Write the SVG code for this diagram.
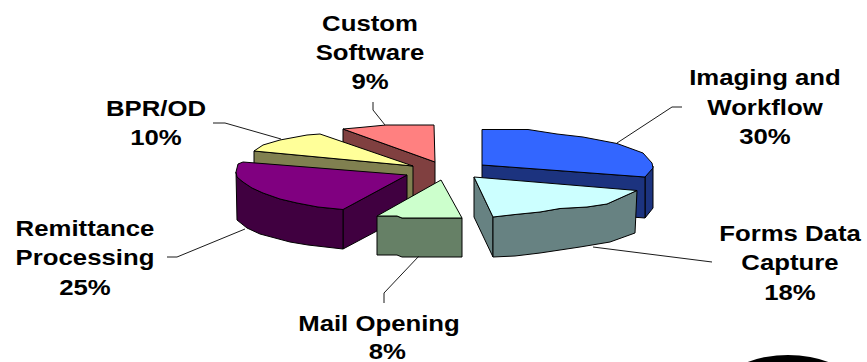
<svg xmlns="http://www.w3.org/2000/svg" width="867" height="362" viewBox="0 0 867 362">
  <style>
    .edge { stroke: #000; stroke-width: 1; stroke-linejoin: round; }
    .lead { fill: none; stroke: #1a1a1a; stroke-width: 1; }
    .lbl { font-family: "Liberation Sans", Arial, sans-serif; font-weight: bold; font-size: 23px; fill: #000; text-anchor: middle; }
  </style>
  <rect width="867" height="362" fill="#fff"/>

  <!-- Custom Software slice (back) -->
  <g id="custom-software">
    <path class="edge" fill="#804040" d="M343,129 L435,162 L435,207 L343,174 Z"/>
    <path class="edge" fill="#FF8080" d="M343,129 L360,127.5 L386,125 L434,125 L435,162 Z"/>
  </g>

  <!-- Imaging and Workflow slice -->
  <g id="imaging-workflow">
    <path class="edge" fill="#1C337F" d="M645,177 L653,166 L653,208 L645,218 Z"/>
    <path class="edge" fill="#1C337F" d="M482,165 L645,177 L645,218 L482,206 Z"/>
    <path class="edge" fill="#3366FF" d="M482,165 L482,129.5 L528,129.5 L557,134 L583,137 L617,143.5 L643,153 L652,163 L653,168 L645,177 Z"/>
  </g>

  <!-- BPR/OD slice -->
  <g id="bpr-od">
    <path class="edge" fill="#808050" d="M254,151 L413,166 L413,206 L254,191 Z"/>
    <path class="edge" fill="#FFFF99" d="M413,166 L254,151 L263,145 L280,140 L307,135 L320,134 Z"/>
  </g>

  <!-- Remittance Processing slice -->
  <g id="remittance">
    <path class="edge" fill="#400040" d="M343,209.5 L407,175 L407,215 L343,249 Z"/>
    <path class="edge" fill="#400040" d="M236,172 L237,177 L243,182 L252,188 L263,193 L280,199 L297,203 L318,207 L343,209.5 L343,249 L308,245 L290,242 L275,238 L260,234 L247,228 L237,220 Z"/>
    <path class="edge" fill="#800080" d="M407,175 L243,162 L238,164 L236,172 L237,177 L243,182 L252,188 L263,193 L280,199 L297,203 L318,207 L343,209.5 Z"/>
  </g>

  <!-- Forms Data Capture slice -->
  <g id="forms-data">
    <path class="edge" fill="#678282" d="M474,177 L493,217 L493,257 L474,217 Z"/>
    <path class="edge" fill="#678282" d="M493,217 L515,214.5 L540,212 L560,208.5 L587,207 L607,204 L637,190.5 L635,233 L610,242 L580,247 L560,250 L540,253 L515,256 L493,257 Z"/>
    <path class="edge" fill="#CCFFFF" d="M474,177 L637,190.5 L607,204 L587,207 L560,208.5 L540,212 L515,214.5 L493,217 Z"/>
  </g>

  <!-- Mail Opening slice -->
  <g id="mail-opening">
    <path class="edge" fill="#668066" d="M377,216 L397,216 L402,218 L462,218 L462,257 L402,257 L397,255 L377,255 Z"/>
    <path class="edge" fill="#CCFFCC" d="M441,180 L462,218 L402,218 L397,216 L377,216 Z"/>
  </g>

  <!-- leader lines from labels to slices -->
  <g id="connectors">
    <polyline class="lead" points="373,102 373,110 385,125"/>
    <polyline class="lead" points="682,107 672,107 617,143"/>
    <polyline class="lead" points="712,262 593,247"/>
    <polyline class="lead" points="384,303 384,293 419,256"/>
    <polyline class="lead" points="167,257 177,257 245,229"/>
    <polyline class="lead" points="213,123 225,123 281,139"/>
  </g>

  <!-- labels -->
  <g id="label-custom">
    <text class="lbl" transform="translate(370,0) scale(1.12,1)"><tspan x="0" y="31.5">Custom</tspan><tspan x="0" y="60">Software</tspan><tspan x="0" y="89">9%</tspan></text>
  </g>
  <g id="label-imaging">
    <text class="lbl" transform="translate(765,0) scale(1.12,1)"><tspan x="0" y="85">Imaging and</tspan><tspan x="0" y="115">Workflow</tspan><tspan x="0" y="144">30%</tspan></text>
  </g>
  <g id="label-forms">
    <text class="lbl" transform="translate(790,0) scale(1.12,1)"><tspan x="0" y="241.5">Forms Data</tspan><tspan x="0" y="270">Capture</tspan><tspan x="0" y="300">18%</tspan></text>
  </g>
  <g id="label-remittance">
    <text class="lbl" transform="translate(85,0) scale(1.12,1)"><tspan x="0" y="236.5">Remittance</tspan><tspan x="0" y="265">Processing</tspan><tspan x="0" y="295">25%</tspan></text>
  </g>
  <g id="label-bpr">
    <text class="lbl" transform="translate(156,0) scale(1.12,1)"><tspan x="0" y="116.5">BPR/OD</tspan><tspan x="0" y="145">10%</tspan></text>
  </g>
  <g id="label-mail">
    <text class="lbl" transform="translate(379,0) scale(1.12,1)"><tspan x="0" y="331.5">Mail Opening</tspan><tspan x="7.5" y="359">8%</tspan></text>
  </g>

  <!-- dark shape at lower right edge -->
  <ellipse cx="788" cy="380" rx="58" ry="25" fill="#000"/>
</svg>
